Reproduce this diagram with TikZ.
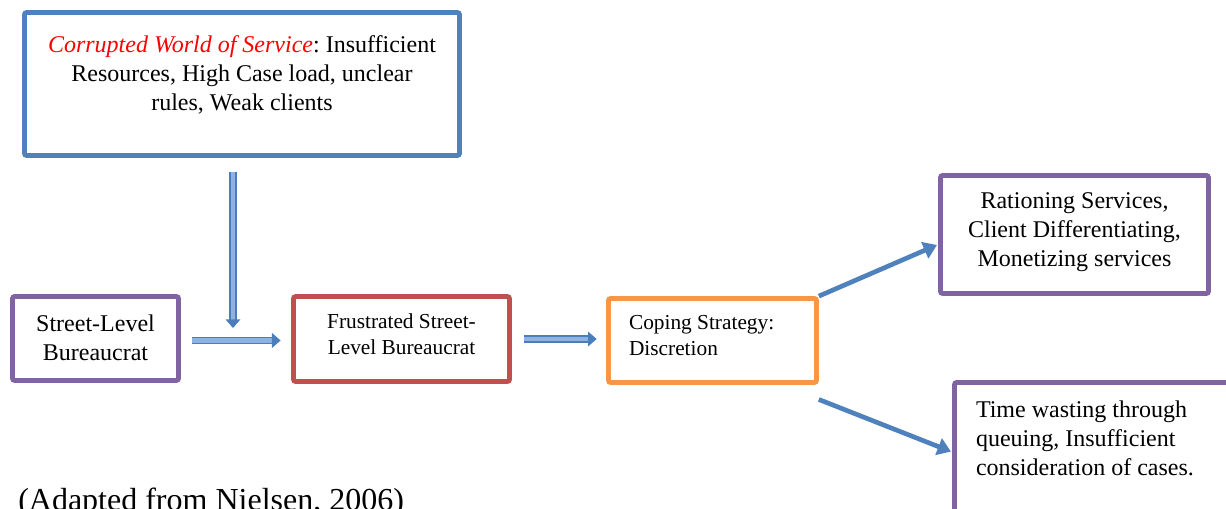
\documentclass[tikz,border=0pt]{standalone}
\usepackage{fontspec}
\setmainfont{Liberation Serif}
\usetikzlibrary{arrows.meta}
\definecolor{boxblue}{HTML}{4F81BD}
\definecolor{boxpurple}{HTML}{8064A2}
\definecolor{boxred}{HTML}{C0504D}
\definecolor{boxorange}{HTML}{F79646}
\definecolor{edgeblue}{HTML}{4A7EBB}
\definecolor{shaftblue}{HTML}{8FB3E0}
\begin{document}
\begin{tikzpicture}[x=0.75pt, y=-0.75pt,
		box/.style={draw, line width=3.5pt, rounded corners=1.5pt, anchor=base, inner xsep=0pt, inner ysep=0pt, align=center, font=\fontsize{18}{21.75}\selectfont, execute at begin node={\spaceskip=0.25em\xspaceskip=0.25em\relax}},
		small/.style={font=\fontsize{16}{19.5}\selectfont},
		blockarrow/.style={draw=edgeblue, line width=1pt, double=shaftblue, double distance=3.6pt, -{Triangle[length=6.5pt, width=11pt]}},
		thickarrow/.style={draw=boxblue, line width=3.5pt, -{Triangle[length=10pt, width=13pt]}}]
		\useasboundingbox (0,0) rectangle (1226,508);
		\clip (0,0) rectangle (1226,508);

		\node[box, draw=boxblue, text width=326.25pt, text height=29.6pt, text depth=77.6pt] (world) at (242,52) {\textcolor{red}{\textit{Corrupted World of Service}}: Insufficient\\ Resources, High Case load, unclear\\ rules, Weak clients};
		\node[box, draw=boxpurple, text width=124.5pt, text height=25.9pt, text depth=37.1pt] (slb) at (95.5,331) {Street-Level\\ Bureaucrat};
		\node[box, small, draw=boxred, text width=162pt, text height=23.6pt, text depth=40.1pt] (fslb) at (401.5,328) {Frustrated Street-\\ Level Bureaucrat};
		\node[box, small, draw=boxorange, align=left, inner xsep=15.4pt, text width=125.2pt, text height=22.9pt, text depth=40.1pt] (cope) at (712.5,329) {Coping Strategy:\\ Discretion};
		\node[box, draw=boxpurple, text width=201pt, text height=24.4pt, text depth=64.1pt] (ration) at (1074.5,208) {Rationing Services,\\ Client Differentiating,\\ Monetizing services};
		\node[box, draw=boxpurple, align=left, inner xsep=16.1pt, text width=189.4pt, text height=25.9pt, text depth=92.25pt] (waste) at (1102.25,417) {Time wasting through\\ queuing, Insufficient\\ consideration of cases.};
		\node[anchor=base west, inner sep=0pt, font=\fontsize{24}{29}\selectfont] (source) at (18,510) {(Adapted from Nielsen, 2006)};

		\coordinate (join) at (233,328);

		\draw[blockarrow, shorten <=10.9pt] (join |- world.south) -- (join);
		\draw[blockarrow, shorten <=8.6pt, shorten >=7.9pt] ([yshift=-1.5pt]slb.east) -- ([yshift=-1.5pt]slb.east -| fslb.west);
		\draw[blockarrow, shorten <=9pt, shorten >=7.1pt] (fslb.east) -- (fslb.east -| cope.west);
		\draw[thickarrow, shorten >=1pt] (cope.north east) -- ([yshift=-7.5pt]ration.west);
		\draw[thickarrow, shorten >=1pt] ([yshift=-11pt]cope.south east) -- ([yshift=6.9pt]waste.west);
	\end{tikzpicture}
\end{document}
